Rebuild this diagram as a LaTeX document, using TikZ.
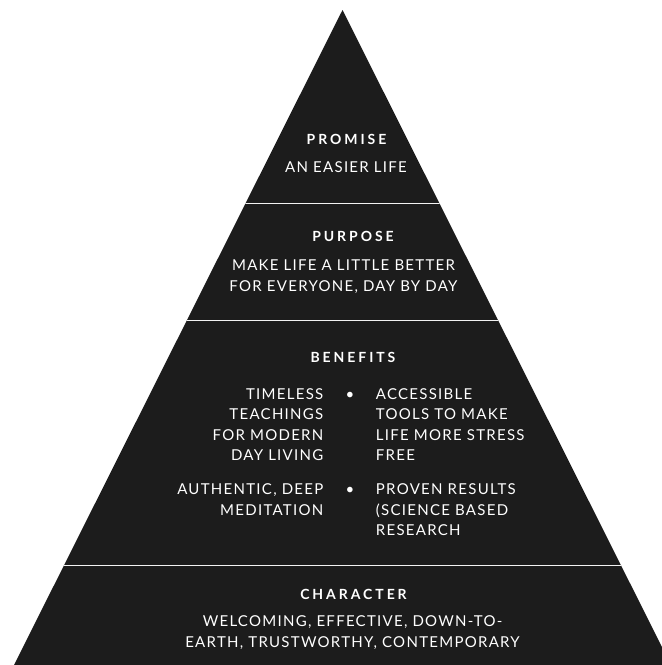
\documentclass[tikz,border=0pt]{standalone}
\usepackage{fontspec}
\setmainfont{Lato}
\newfontfamily\bodyfont[LetterSpace=8.5]{Lato}
\newfontfamily\headfont[LetterSpace=21]{Lato Bold}
\definecolor{pyr}{HTML}{1C1C1C}
\definecolor{sep}{HTML}{F2F2F2}
\tikzset{
  head/.style={text=white, font=\headfont\fontsize{14}{14}\selectfont, inner sep=0pt, anchor=base},
  body/.style={text=white, font=\bodyfont\fontsize{15}{20.4}\selectfont, inner sep=0pt, anchor=base},
  bodyr/.style={body, align=right, anchor=base east},
  bodyl/.style={body, align=left, anchor=base west},
  bodyc/.style={body, align=center},
  dot/.style={text=white, font=\fontsize{15}{15}\selectfont, inner sep=0pt, anchor=base},
  sepline/.style={sep, line width=1.8pt}
}
\begin{document}
\begin{tikzpicture}[x=1pt,y=-1pt]
\useasboundingbox (0,0) rectangle (662,665);
\begin{scope}
\clip (0,0) rectangle (662,665);
\coordinate (apex) at (342.5,10);
\coordinate (bl) at (14,665);
\coordinate (br) at (671,665);
\fill[pyr] (apex) -- (bl) -- (br) -- cycle;
\coordinate (s1l) at (0,203.5);  \coordinate (s1r) at (662,203.5);
\coordinate (s2l) at (0,320.5);  \coordinate (s2r) at (662,320.5);
\coordinate (s3l) at (0,565.5);  \coordinate (s3r) at (662,565.5);
\end{scope}
\begin{scope}
\clip (apex) -- (bl) -- (br) -- cycle;
\draw[sepline] (s1l) -- (s1r);
\draw[sepline] (s2l) -- (s2r);
\draw[sepline] (s3l) -- (s3r);
\end{scope}

% multi-line nodes: base anchor is the baseline of the last line
\node[head] (promise) at (346.5,144) {PROMISE};
\node[bodyc] (promisetxt) at (346,172) {AN EASIER LIFE};

\node[head] (purpose) at (353,241.7) {PURPOSE};
\node[bodyc] (purposetxt) at (343.5,291) {MAKE LIFE A LITTLE BETTER\\FOR EVERYONE, DAY BY DAY};

\node[head] (benefits) at (353,362.3) {BENEFITS};
\node[bodyr] (b1) at (323.5,460.4) {TIMELESS\\TEACHINGS\\FOR MODERN\\DAY LIVING};
\node[dot] (d1) at (350,399.4) {•};
\node[bodyl] (b2) at (375.7,460.4) {ACCESSIBLE\\TOOLS TO MAKE\\LIFE MORE STRESS\\FREE};
\node[bodyr] (b3) at (323.5,515) {AUTHENTIC, DEEP\\MEDITATION};
\node[dot] (d2) at (350,494.4) {•};
\node[bodyl] (b4) at (375.7,535.4) {PROVEN RESULTS\\(SCIENCE BASED\\RESEARCH};

\node[head] (character) at (353.5,599.3) {CHARACTER};
\node[bodyc] (charactertxt) at (352.5,647) {WELCOMING, EFFECTIVE, DOWN-TO-\\EARTH, TRUSTWORTHY, CONTEMPORARY};
\end{tikzpicture}
\end{document}
